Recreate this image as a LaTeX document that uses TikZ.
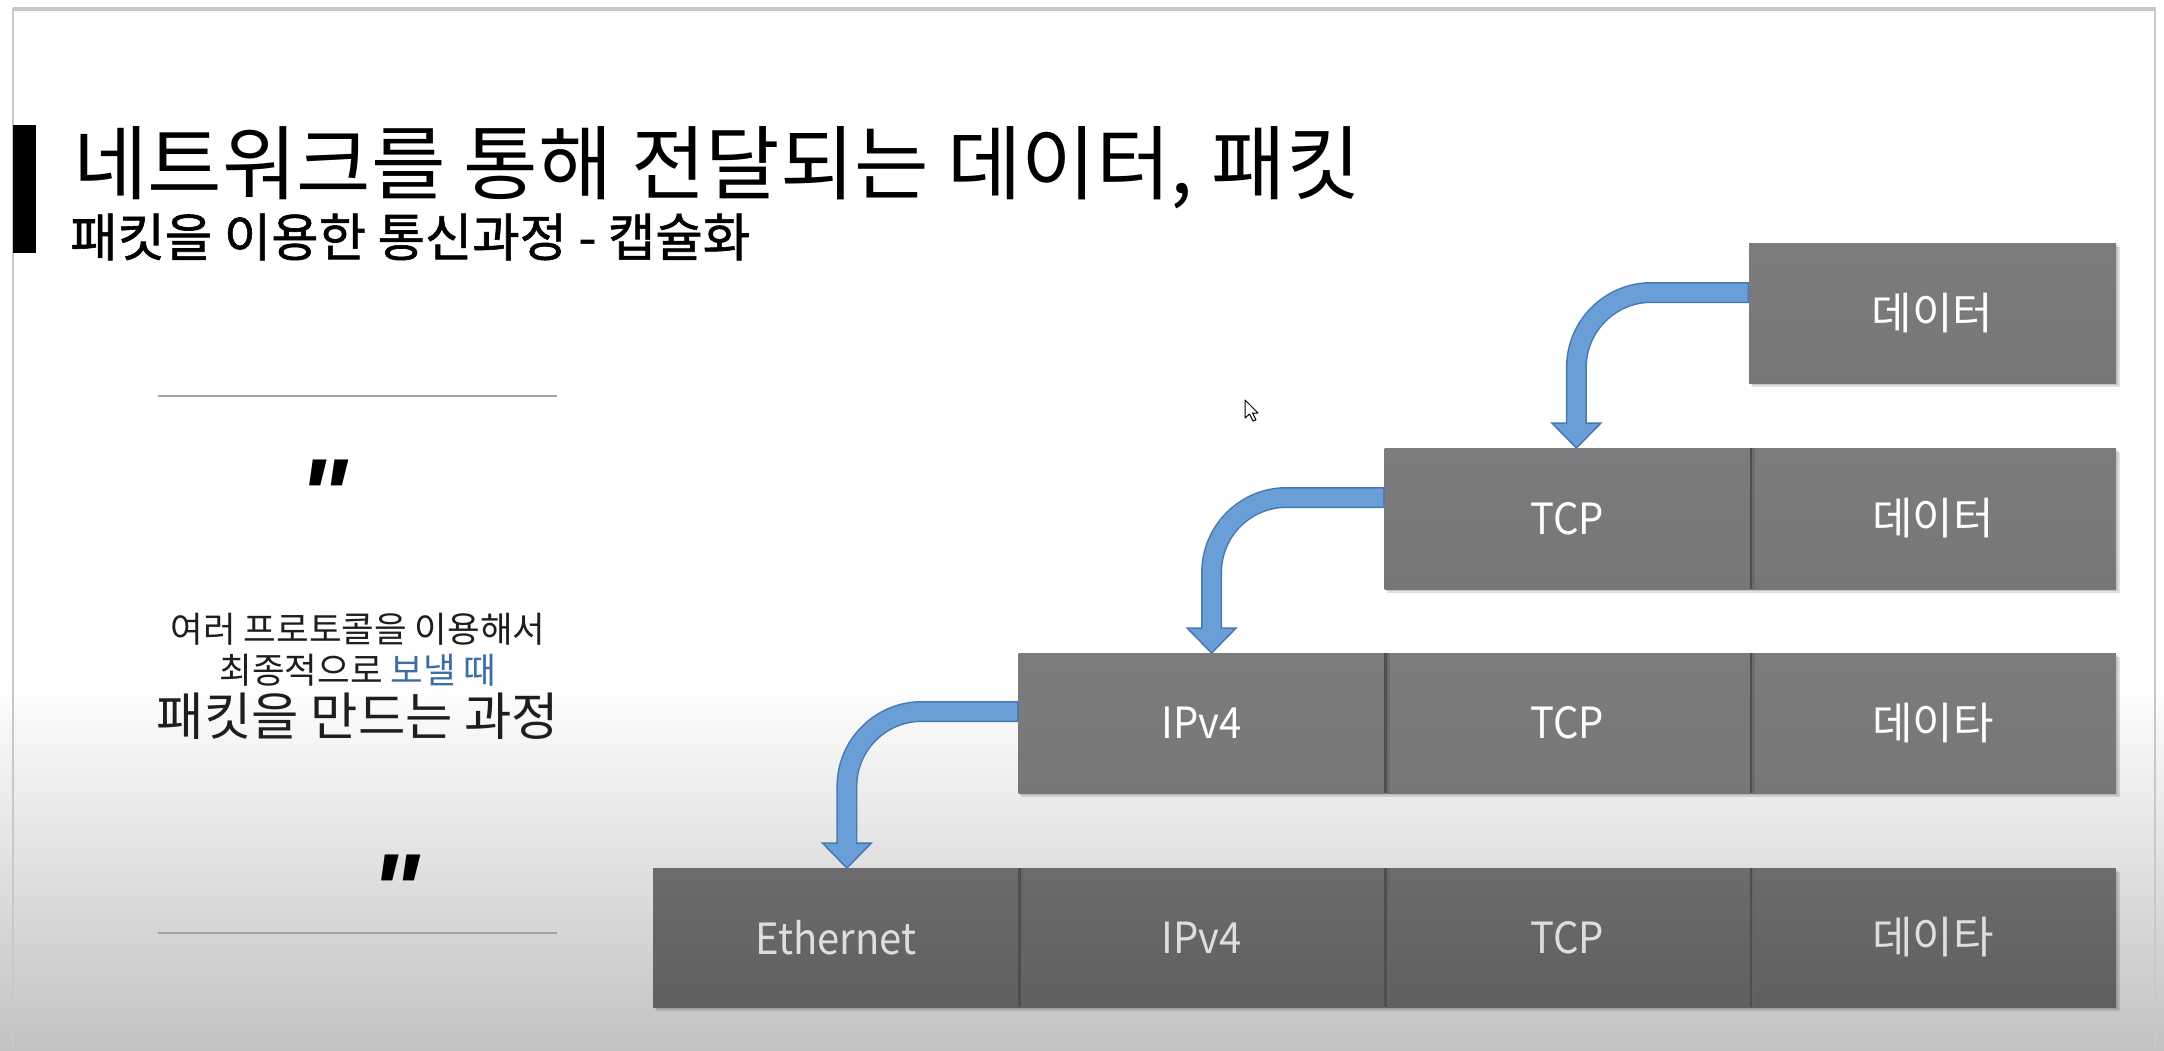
\documentclass[tikz,border=0pt]{standalone}
\usepackage{fontspec}
\setmainfont{Noto Sans CJK KR}
\newfontfamily\cellfont[FakeStretch=0.93]{Noto Sans CJK KR}
\newfontfamily\cellko{Noto Sans CJK KR}
\newfontfamily\titlefont{Noto Sans CJK KR}
\newfontfamily\subfont[FakeBold=1.2]{Noto Sans CJK KR}
\newfontfamily\qfont{Liberation Sans}
\usetikzlibrary{calc,shadows}
\definecolor{cellA}{RGB}{124,124,126}
\definecolor{cellAb}{RGB}{119,119,121}
\definecolor{cellD}{RGB}{108,108,110}
\definecolor{cellDb}{RGB}{95,95,97}
\definecolor{afill}{RGB}{106,158,214}
\definecolor{aborder}{RGB}{72,120,180}
\definecolor{sepc}{RGB}{78,78,80}
\definecolor{frame}{RGB}{200,200,200}
\definecolor{bluetxt}{RGB}{60,110,165}
\definecolor{dark}{RGB}{30,30,30}
\tikzset{
  cell/.style={minimum width=365.75pt, minimum height=140pt, inner sep=0pt, outer sep=0pt,
    text=white, font=\cellfont\fontsize{43}{46}\selectfont, top color=cellA, bottom color=cellAb},
  korean/.style={font=\cellko\fontsize{44}{46}\selectfont},
  lastrow/.style={top color=cellD, bottom color=cellDb, text={rgb,255:red,222;green,222;blue,222}},
  rowshadow/.style={fill=black, opacity=0.12},
  sepline/.style={sepc, line width=2.5pt},
  sepshade/.style={color={rgb,255:red,100;green,100;blue,102}, line width=3pt, opacity=0.6},
  ruleline/.style={color={rgb,255:red,165;green,165;blue,165}, line width=2pt},
  quote/.style={font=\qfont\bfseries\itshape\fontsize{104}{104}\selectfont, text=black, inner sep=0pt},
}
\newcommand\bendarrow[2]{%
  \draw[aborder, line width=21pt, rounded corners=75pt] (#1) -| ($(#2)+(0,-25)$);
  \filldraw[fill=afill, draw=aborder, line width=1.5pt, line join=miter]
     ($(#2)+(-24.5,-25)$) -- (#2) -- ($(#2)+(24.5,-25)$) -- cycle;
  \draw[afill, line width=18pt, rounded corners=75pt] ([xshift=-1.5pt]#1) -| ($(#2)+(0,-22.5)$);
}
\begin{document}
\begin{tikzpicture}[x=1pt,y=-1pt]
\useasboundingbox (0,0) rectangle (2164,1050);
% background
\fill[white] (0,0) rectangle (2164,1050);
\shade[top color=white, bottom color={rgb,255:red,194;green,194;blue,194}] (0,680) rectangle (2164,1050);
% frame
\fill[frame] (13,7) rectangle (2156,10.5);
\draw[frame, line width=2pt] (13,8) -- (13,1050);
\draw[frame, line width=2pt] (2155,8) -- (2155,1050);
% title
\fill[black] (13,125) rectangle (36,253);
\node[anchor=west, inner sep=0pt, font=\titlefont\fontsize{81}{85}\selectfont] (title) at (73,168)
  {네트워크를 통해 전달되는 데이터, 패킷};
\node[anchor=west, inner sep=0pt, font=\subfont\fontsize{51.5}{54}\selectfont] (sub) at (70,237)
  {패킷을 이용한 통신과정 - 캡슐화};
% left panel
\draw[ruleline] (158,396) -- (557,396);
\draw[ruleline] (158,933) -- (557,933);
\node[quote, anchor=north] (q1) at (323,460) {"};
\node[quote, anchor=north] (q2) at (395,855) {"};
\node[font=\fontsize{35.5}{38}\selectfont, text=dark] (l1) at (358,629) {여러 프로토콜을 이용해서};
\node[font=\fontsize{35.5}{38}\selectfont, text=dark] (l2) at (358,670) {최종적으로 \textcolor{bluetxt}{보낼 때}};
\node[font=\fontsize{51.5}{54}\selectfont, text=dark] (l3) at (358,716) {패킷을 만드는 과정};
% row shadows
\foreach \xa/\ya/\yb in {1749/243/383, 1384/448/589, 1018/653/793, 653/868/1007}{
  \fill[rowshadow] (\xa+3,\ya+4) rectangle (2116+4,\yb+4);
  \fill[rowshadow] (\xa+2,\ya+2) rectangle (2116+2,\yb+2);
}
% row 1
\node[cell, korean, minimum width=367pt] (d1) at (1932.5,313) {데이터};
% row 2
\node[cell, minimum height=141pt] (t2) at (1567.4,518.5) {TCP};
\node[cell, korean, minimum height=141pt] (d2) at (1933.1,518.5) {데이터};
% row 3
\node[cell] (i3) at (1201.6,723) {IPv4};
\node[cell] (t3) at (1567.4,723) {TCP};
\node[cell, korean] (d3) at (1933.1,723) {데이타};
% row 4
\node[cell, lastrow, minimum height=139pt] (e4) at (835.9,937.5) {Ethernet};
\node[cell, lastrow, minimum height=139pt] (i4) at (1201.6,937.5) {IPv4};
\node[cell, lastrow, minimum height=139pt] (t4) at (1567.4,937.5) {TCP};
\node[cell, lastrow, korean, minimum height=139pt] (d4) at (1933.1,937.5) {데이타};
% separators
\foreach \n in {d2,t3,d3,i4,t4,d4}{
  \draw[sepshade] ([xshift=3.5pt]\n.north west) -- ([xshift=3.5pt]\n.south west);
  \draw[sepline] ([xshift=1pt]\n.north west) -- ([xshift=1pt]\n.south west);
}
% arrows
\coordinate (s1) at ([yshift=20.5pt]d1.west);
\coordinate (e1) at ([xshift=9pt]t2.north);
\coordinate (s2) at ([yshift=21pt]t2.west);
\coordinate (e2) at ([xshift=10pt]i3.north);
\coordinate (s3) at ([yshift=11.5pt]i3.west);
\coordinate (e3) at ([xshift=11pt]e4.north);
\bendarrow{s1}{e1}
\bendarrow{s2}{e2}
\bendarrow{s3}{e3}
% mouse pointer
\filldraw[fill=white, draw=black, line width=1pt, line join=round]
  (1245,400) -- (1245,418) -- (1249.5,414) -- (1253,421) -- (1256,419.8) -- (1252.5,413) -- (1258,413) -- cycle;
\end{tikzpicture}
\end{document}
